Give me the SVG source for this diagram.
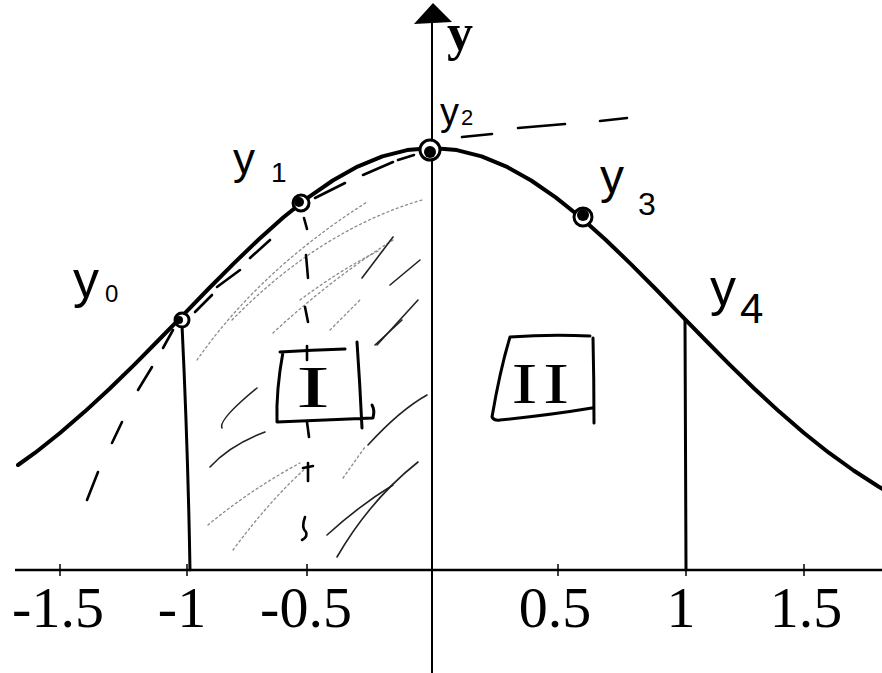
<svg xmlns="http://www.w3.org/2000/svg" width="882" height="673" viewBox="0 0 882 673">
<defs>
<style>
.ax{stroke:#000;stroke-width:2.6;fill:none}
.curve{stroke:#000;stroke-width:4;fill:none;stroke-linejoin:round;stroke-linecap:round}
.pen{stroke:#000;stroke-width:3;fill:none;stroke-linecap:round;stroke-linejoin:round}
.dash{stroke:#000;stroke-width:2.6;fill:none;stroke-linecap:round}
.hat{stroke:#222;stroke-width:1.6;fill:none;stroke-linecap:round}
.faint{stroke:#8a8a8a;stroke-width:1.3;fill:none;stroke-dasharray:2 3;stroke-linecap:round}
.tick{stroke:#000;stroke-width:1.5}
.num{font-family:"Liberation Serif","Times New Roman",serif;font-size:58px;fill:#000;text-anchor:middle}
.hand{font-family:"Liberation Sans",Arial,sans-serif;fill:#000}
.roman{font-family:"Liberation Serif","Times New Roman",serif;fill:#000;text-anchor:middle}
.mk{stroke:#000;stroke-width:3;fill:#fff}
</style>
</defs>
<rect width="882" height="673" fill="#fff"/>

<g id="axes">
<line class="ax" x1="15" y1="570" x2="882" y2="570"/>
<line class="ax" x1="432" y1="18" x2="432" y2="673" style="stroke-width:2"/>
<polygon points="433,3 414,24 452,22" fill="#000"/>
<text x="447" y="50" style="font-family:'Liberation Serif',serif;font-weight:bold;font-size:52px" fill="#000">y</text>
<g id="ticks">
<line class="tick" x1="60" y1="564" x2="60" y2="576"/>
<line class="tick" x1="187" y1="564" x2="187" y2="576"/>
<line class="tick" x1="307" y1="564" x2="307" y2="576"/>
<line class="tick" x1="558" y1="564" x2="558" y2="576"/>
<line class="tick" x1="686" y1="564" x2="686" y2="576"/>
<line class="tick" x1="804" y1="564" x2="804" y2="576"/>
</g>
<text class="num" x="58" y="627">-1.5</text>
<text class="num" x="182" y="627">-1</text>
<text class="num" x="306" y="627">-0.5</text>
<text class="num" x="555" y="627">0.5</text>
<text class="num" x="681" y="627">1</text>
<text class="num" x="806" y="627">1.5</text>
</g>

<g id="hatching">
<path class="faint" d="M197,360 Q260,270 367,202"/>
<path class="faint" d="M232,320 Q320,230 422,200"/>
<path class="faint" d="M273,333 Q330,280 393,240"/>
<path class="faint" d="M208,525 Q250,490 300,463"/>
<path class="faint" d="M233,550 Q270,500 307,467"/>
<path class="faint" d="M343,478 L365,447"/>
<path class="faint" d="M300,300 Q340,270 380,250"/>
<path class="faint" d="M330,330 L360,300"/>
<path class="hat" d="M362,278 L393,237"/>
<path class="hat" d="M390,285 L420,260"/>
<path class="hat" d="M377,345 L418,300"/>
<path class="hat" d="M375,345 L402,320"/>
<path class="hat" d="M222,428 Q218,420 257,388"/>
<path class="hat" d="M210,467 Q230,445 265,432"/>
<path class="hat" d="M368,445 Q400,410 427,395"/>
<path class="hat" d="M327,535 Q360,505 393,485"/>
<path class="hat" d="M337,557 Q370,500 418,462"/>
</g>

<g id="connectors">
<path class="curve" d="M18,465 L35.2,452.7 L60,433 L84.8,411.6 L109.6,388.7 L134.4,364.6 L159.2,339.5 L184,314.1 L208.8,288.5 L233.6,263.6 L258.4,239.7 L283.2,217.5 L308,197.6 L332.8,180.5 L357.6,166.6 L382.4,156.4 L407.2,150.1 L432,148 L456.8,150.1 L481.6,156.4 L506.4,166.6 L531.2,180.5 L556,197.6 L580.8,217.5 L605.6,239.7 L630.4,263.6 L655.2,288.5 L680,314.1 L704.8,339.5 L729.6,364.6 L754.4,388.7 L779.2,411.6 L804,433 L828.8,452.7 L853.6,470.5 L878.4,486.5 L890.8,493.8"/>
<path class="pen" d="M182,325 Q188,450 190,570"/>
<path class="pen" d="M685,320 Q686,450 686,570"/>
<g id="parabola-dashes">
<line class="dash" x1="87" y1="500" x2="98" y2="472"/>
<line class="dash" x1="112" y1="443" x2="122" y2="422"/>
<line class="dash" x1="138" y1="390" x2="152" y2="367"/>
<line class="dash" x1="163" y1="348" x2="173" y2="330"/>
<line class="dash" x1="195" y1="312" x2="212" y2="295"/>
<line class="dash" x1="217" y1="287" x2="240" y2="270"/>
<line class="dash" x1="250" y1="258" x2="270" y2="240"/>
<line class="dash" x1="315" y1="198" x2="345" y2="183"/>
<line class="dash" x1="363" y1="175" x2="393" y2="162"/>
<line class="dash" x1="398" y1="160" x2="414" y2="155"/>
<line class="dash" x1="462" y1="137" x2="492" y2="134"/>
<line class="dash" x1="518" y1="128" x2="565" y2="124"/>
<line class="dash" x1="600" y1="121" x2="627" y2="118"/>
</g>
<g id="midline">
<line class="dash" x1="304" y1="218" x2="307" y2="229"/>
<line class="dash" x1="306" y1="255" x2="308" y2="278"/>
<line class="dash" x1="305" y1="307" x2="308" y2="322"/>
<line class="dash" x1="307" y1="346" x2="307" y2="360"/>
<line class="dash" x1="307" y1="422" x2="309" y2="437"/>
<line class="dash" x1="308" y1="463" x2="308" y2="481"/>
<line class="dash" x1="303" y1="468" x2="313" y2="466"/>
<path class="dash" d="M305,517 Q301,528 306,532 Q308,537 302,540"/>
</g>
</g>

<g id="markers">
<circle class="mk" cx="182" cy="320" r="7"/>
<circle cx="179" cy="320" r="4" fill="#000"/>
<circle class="mk" cx="301" cy="203" r="8"/>
<circle cx="299" cy="202" r="5" fill="#000"/>
<circle class="mk" cx="430" cy="150" r="10"/>
<circle cx="430" cy="152" r="6" fill="#000"/>
<circle class="mk" cx="583" cy="217" r="9"/>
<circle cx="583" cy="215" r="6" fill="#000"/>
</g>

<g id="label-y0"><text class="hand" x="73" y="297" font-size="52">y<tspan font-size="24" dx="6" dy="5">0</tspan></text></g>
<g id="label-y1"><text class="hand" x="233" y="174" font-size="44">y<tspan font-size="28" dx="16" dy="8">1</tspan></text></g>
<g id="label-y2"><text class="hand" x="440" y="125" font-size="38">y<tspan font-size="22" dx="2">2</tspan></text></g>
<g id="label-y3"><text class="hand" x="600" y="193" font-size="48">y<tspan font-size="32" dx="14" dy="22">3</tspan></text></g>
<g id="label-y4"><text class="hand" x="710" y="305" font-size="52">y<tspan font-size="42" dx="4" dy="18">4</tspan></text></g>

<g id="region-I">
<path class="pen" d="M280,352 Q312,350 345,349 M283,352 Q276,390 277,422 Q325,420 373,418 Q375,410 372,405 M357,342 Q360,385 362,428"/>
<text class="roman" transform="translate(313,407) scale(1.7,1)" x="0" y="0" font-size="60">I</text>
</g>

<g id="region-II">
<path class="pen" d="M510,337 Q550,334 590,336 M593,338 Q594,380 594,423 M510,337 Q500,370 492,417 Q494,421 500,420 Q550,415 592,408"/>
<text class="roman" transform="translate(543,403) scale(1.35,1)" x="0" y="0" font-size="58" letter-spacing="4">II</text>
</g>
</svg>
